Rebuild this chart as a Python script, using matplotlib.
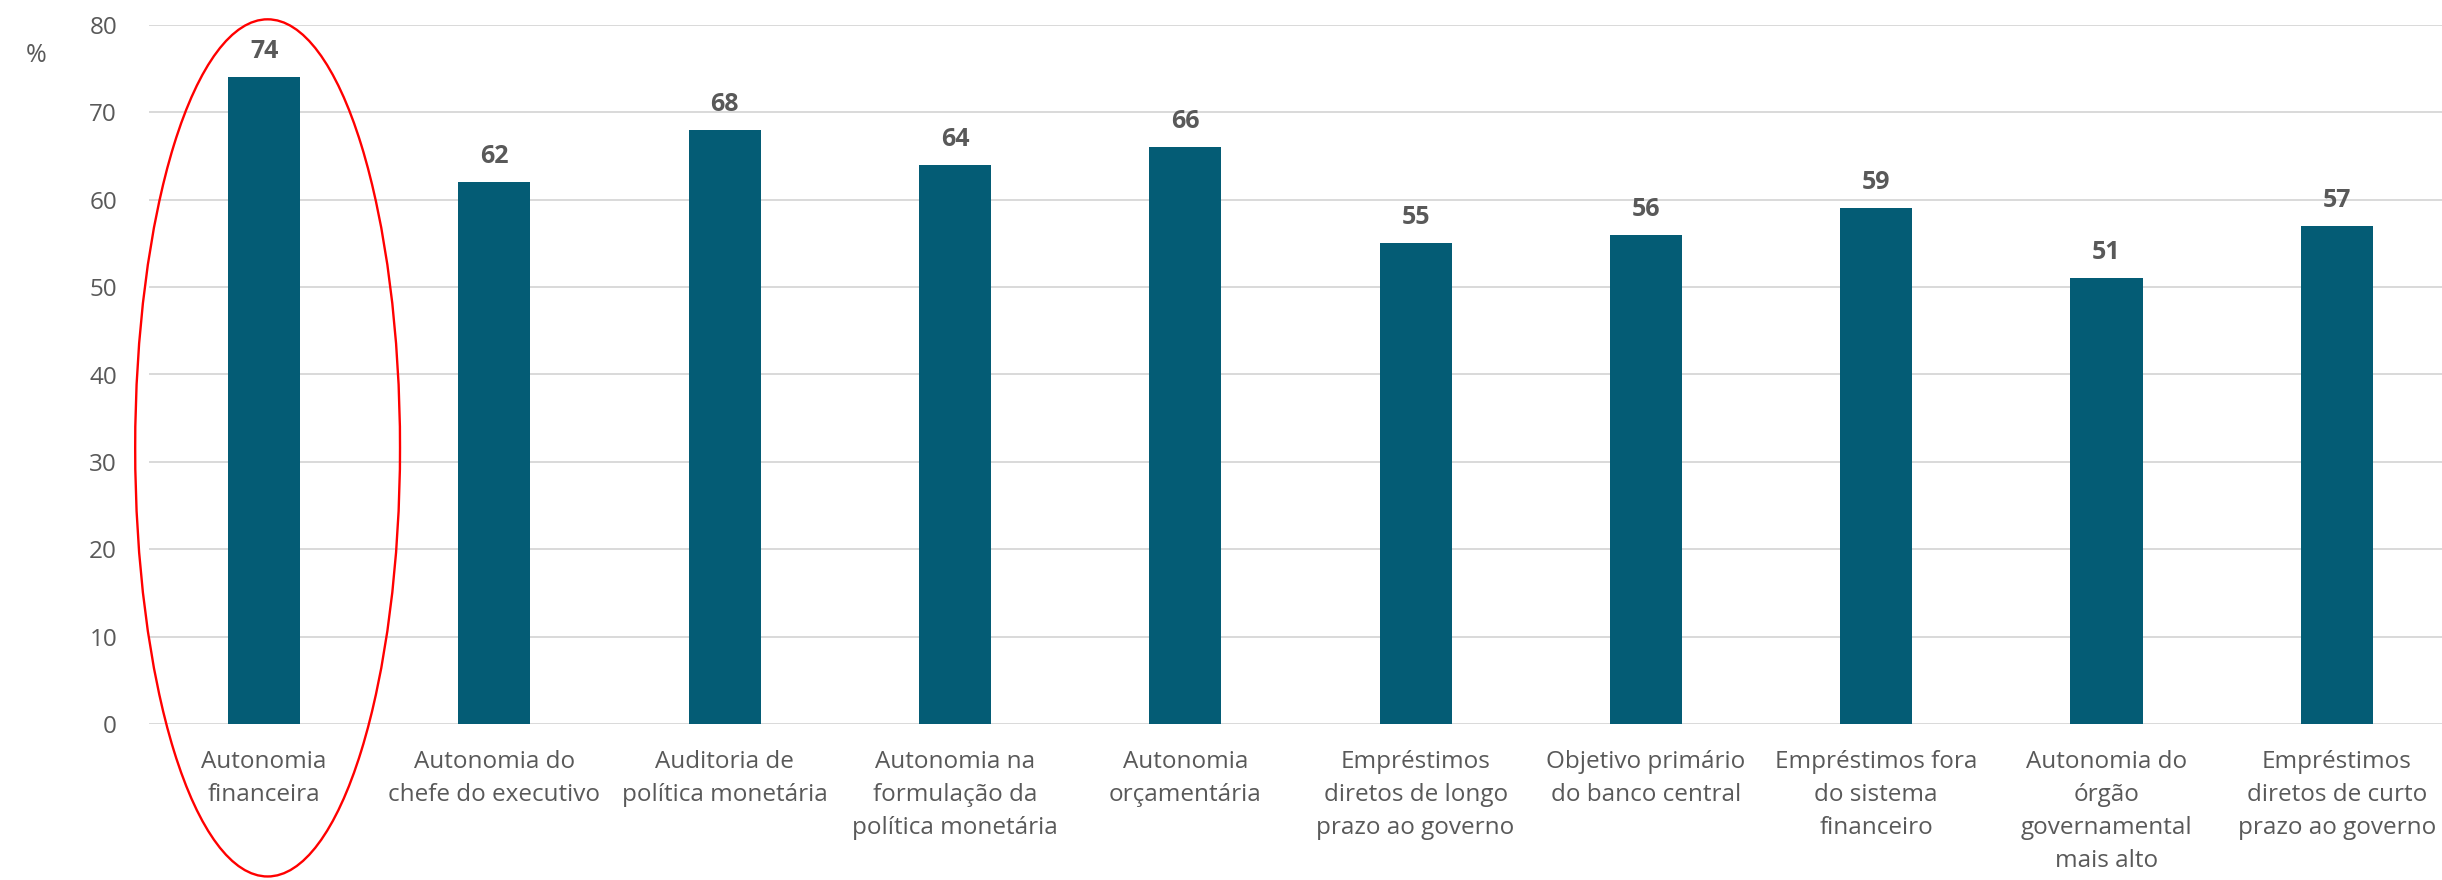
import matplotlib
matplotlib.use("Agg")
import matplotlib.pyplot as plt
from matplotlib.patches import Ellipse

categories = [
    "Autonomia\nfinanceira",
    "Autonomia do\nchefe do executivo",
    "Auditoria de\npolítica monetária",
    "Autonomia na\nformulação da\npolítica monetária",
    "Autonomia\norçamentária",
    "Empréstimos\ndiretos de longo\nprazo ao governo",
    "Objetivo primário\ndo banco central",
    "Empréstimos fora\ndo sistema\nfinanceiro",
    "Autonomia do\nórgão\ngovernamental\nmais alto",
    "Empréstimos\ndiretos de curto\nprazo ao governo",
]
values = [74, 62, 68, 64, 66, 55, 56, 59, 51, 57]
yticks = [0, 10, 20, 30, 40, 50, 60, 70, 80]
ylabel = "%"

BAR = "#045C75"
TXT = "#595959"
GRID = "#D9D9D9"

plt.rcParams['font.family'] = ['Open Sans', 'DejaVu Sans']

fig = plt.figure(figsize=(24.42, 8.8), dpi=100)
ax = fig.add_axes([149/2442, 156/880, (2442-149)/2442, 699/880])

x = list(range(len(categories)))
ax.bar(x, values, width=0.313, color=BAR, zorder=3)

for xi, v in zip(x, values):
    ax.annotate(str(v), (xi, v), xytext=(0, 9.5), textcoords="offset points",
                ha="center", va="bottom", fontsize=18, fontweight="bold", color=TXT)

ax.set_ylim(0, 80)
ax.set_xlim(-0.5, 9.457)
ax.set_yticks(yticks)
ax.set_xticks(x)
ax.set_xticklabels(categories, fontsize=17.5, color=TXT, linespacing=1.5)
ax.tick_params(axis="y", length=0, pad=23, labelsize=17.5, labelcolor=TXT)
ax.tick_params(axis="x", length=0, pad=19)
ax.grid(axis="y", color=GRID, linewidth=1.4, zorder=0)
ax.set_axisbelow(True)
for s in ax.spines.values():
    s.set_visible(False)

fig.text(36/2442, 1 - 55/880, ylabel, fontsize=18, color=TXT, ha="center", va="center")

ell = Ellipse((0.015, 31.6), width=1.15, height=98.1, fill=False,
              edgecolor="#FF0000", linewidth=1.7, clip_on=False, zorder=5)
ax.add_patch(ell)

fig.savefig("out.png", dpi=100)
